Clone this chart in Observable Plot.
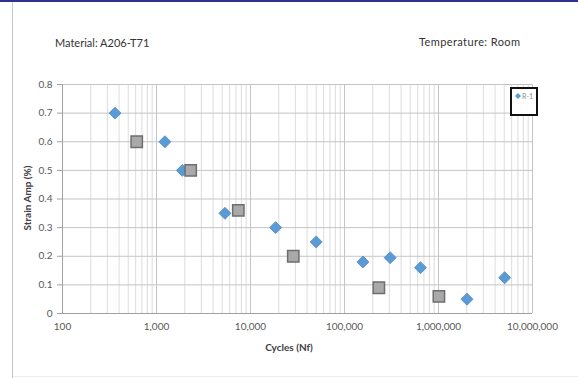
<!DOCTYPE html>
<html>
<head>
<meta charset="utf-8">
<script src="https://cdn.jsdelivr.net/npm/d3@7"></script>
<script src="https://cdn.jsdelivr.net/npm/@observablehq/plot@0.6"></script>
<style>
  body { margin: 0; background: #fff; }
  #wrap { position: relative; width: 578px; height: 378px; overflow: hidden; font-family: Lato, "Liberation Sans", sans-serif; }
  #wrap svg { position: absolute; left: 0; top: 0; }
  .txt { position: absolute; white-space: nowrap; color: #404040; }
</style>
</head>
<body>
<div id="wrap"></div>
<script>
// Series R-1 (blue diamonds)
const r1Cycles = [362, 1230, 1885, 5350, 18500, 50000, 157000, 306000, 643000, 2010000, 5060000];
const r1Strain = [0.70, 0.60, 0.50, 0.35, 0.30, 0.25, 0.18, 0.195, 0.16, 0.05, 0.125];
// Second series (gray squares)
const s2Cycles = [616, 2310, 7420, 28500, 232000, 1010000];
const s2Strain = [0.60, 0.50, 0.36, 0.20, 0.09, 0.06];
// Axis ticks
const xTicks = [100, 1000, 10000, 100000, 1000000, 10000000];
const yTicks = [0, 0.1, 0.2, 0.3, 0.4, 0.5, 0.6, 0.7, 0.8];
const legendLabel = "R-1";
const titleLeft = "Material: A206-T71";
const titleRight = "Temperature: Room";
const xTitle = "Cycles (Nf)";
const yTitle = "Strain Amp (%)";

const r1 = r1Cycles.map((c, i) => ({cycles: c, strain: r1Strain[i]}));
const s2 = s2Cycles.map((c, i) => ({cycles: c, strain: s2Strain[i]}));
const minorX = [];
for (let k = 0; k < xTicks.length - 1; k++) for (let m = 2; m <= 9; m++) minorX.push(xTicks[k] * m);

const chart = Plot.plot({
  width: 578,
  height: 378,
  marginLeft: 62,
  marginRight: 46,
  marginTop: 84,
  marginBottom: 65,
  style: {fontFamily: "Lato, 'Liberation Sans', sans-serif", fontSize: "10px", color: "#595959", background: "transparent"},
  x: {type: "log", domain: [100, 10000000]},
  y: {domain: [0, 0.8]},
  marks: [
    Plot.gridX(minorX, {stroke: "#dcdcdc", strokeOpacity: 1, strokeWidth: 1}),
    Plot.gridX(xTicks, {stroke: "#c4c4c4", strokeOpacity: 1, strokeWidth: 1}),
    Plot.gridY(yTicks, {stroke: "#c4c4c4", strokeOpacity: 1, strokeWidth: 1}),
    Plot.axisX({ticks: xTicks, tickFormat: d3.format(","), tickSize: 0, tickPadding: 9, label: null, fill: "#595959"}),
    Plot.axisY({ticks: yTicks, tickFormat: d => d === 0 ? "0" : d.toFixed(1), tickSize: 5, tickPadding: 5, label: null, stroke: "#a0a0a0", fill: "#595959"}),
    Plot.ruleX([100], {stroke: "#a0a0a0"}),
    Plot.ruleY([0], {stroke: "#a0a0a0"}),
    Plot.dot(r1, {x: "cycles", y: "strain", symbol: "diamond2", r: 5.4, fill: "#5b9bd5", stroke: "#4a88c4", strokeWidth: 0.8}),
    Plot.dot(s2, {x: "cycles", y: "strain", symbol: "square", r: 6.4, fill: "#a9a9a9", stroke: "#6e6e6e", strokeWidth: 1.5})
  ]
});

const wrap = document.getElementById("wrap");
wrap.appendChild(chart);

function addDiv(html, css) {
  const d = document.createElement("div");
  d.className = "txt";
  d.innerHTML = html;
  Object.assign(d.style, css);
  wrap.appendChild(d);
  return d;
}
// frame lines
addDiv("", {left: "0px", top: "0px", width: "578px", height: "2px", background: "#2e3192"});
addDiv("", {left: "12px", top: "2px", width: "1px", height: "376px", background: "#c8c8c8"});
addDiv("", {left: "13px", top: "376px", width: "565px", height: "1px", background: "#ececec"});
// titles
addDiv(titleLeft, {left: "55px", top: "36px", fontSize: "11px", color: "#333"});
addDiv(titleRight, {left: "419px", top: "35px", fontSize: "11px", color: "#333", letterSpacing: "0.4px"});
// axis titles
addDiv(xTitle, {left: "289px", top: "341px", fontSize: "10px", fontWeight: "bold", color: "#404040", transform: "translateX(-50%)"});
addDiv(yTitle, {left: "27px", top: "198px", fontSize: "10px", fontWeight: "bold", color: "#404040", transform: "translate(-50%,-50%) rotate(-90deg)"});
// legend box
const lg = addDiv("", {left: "510px", top: "87px", width: "24px", height: "25px", border: "2px solid #111", background: "#fff", overflow: "hidden"});
lg.innerHTML = '<svg width="24" height="12" style="position:absolute;left:0;top:2px"><path d="M6,2L9,5L6,8L3,5Z" fill="#5b9bd5"/><text x="10" y="7.5" font-size="7" fill="#7f8fa8" font-family="Lato, sans-serif">' + legendLabel + '</text></svg>';
</script>
</body>
</html>
